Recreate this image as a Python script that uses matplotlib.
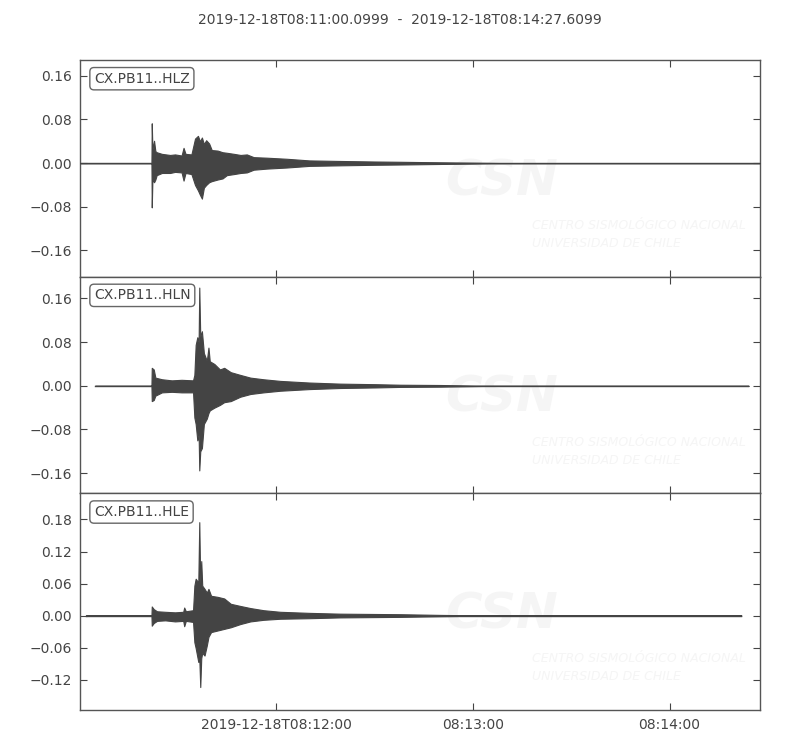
import numpy as np
import matplotlib.pyplot as plt

# trace window (seconds after 2019-12-18T08:11:00.0999)
title = "2019-12-18T08:11:00.0999  -  2019-12-18T08:14:27.6099"
duration = 207.51

labels = ["CX.PB11..HLZ", "CX.PB11..HLN", "CX.PB11..HLE"]

# envelopes: time (s), upper, lower
t_z = [0.0, 21.8, 21.9, 22.1, 22.6, 23.0, 23.4, 25.0, 27.5, 29.0, 31.0, 31.6, 32.2, 34.0,
       35.1, 36.0, 36.6, 37.2, 37.8, 38.5, 39.4, 40.2, 42.0, 43.5, 44.8, 47.0, 49.0, 50.9,
       53.0, 57.0, 63.1, 70.0, 79.4, 90.0, 97.7, 110.0, 120.0, 130.0, 207.5]
up_z = [0, 0, 0.073, 0.025, 0.041, 0.022, 0.020, 0.017, 0.015, 0.016, 0.014, 0.028, 0.017, 0.016,
        0.045, 0.050, 0.040, 0.047, 0.035, 0.042, 0.036, 0.024, 0.023, 0.020, 0.019, 0.017, 0.015, 0.016,
        0.011, 0.010, 0.008, 0.005, 0.004, 0.003, 0.0025, 0.0015, 0.0008, 0, 0]
lo_z = [0, 0, -0.081, -0.030, -0.035, -0.030, -0.022, -0.018, -0.018, -0.016, -0.017, -0.032, -0.018, -0.020,
        -0.040, -0.050, -0.058, -0.065, -0.045, -0.040, -0.035, -0.033, -0.030, -0.028, -0.022, -0.020, -0.018, -0.017,
        -0.012, -0.010, -0.008, -0.005, -0.004, -0.003, -0.0025, -0.0015, -0.0008, 0, 0]

t_n = [4.6, 21.8, 21.9, 22.5, 23.0, 25.0, 28.0, 31.0, 34.5, 34.9, 35.3, 35.8, 36.2, 36.4, 36.7,
       37.2, 37.8, 38.7, 39.2, 39.6, 41.0, 42.7, 44.0, 46.0, 48.9, 52.0, 56.0, 61.1, 70.0, 79.4,
       90.0, 97.7, 110.0, 125.0, 204.0]
up_n = [0, 0, 0.033, 0.030, 0.015, 0.012, 0.010, 0.011, 0.010, 0.020, 0.075, 0.089, 0.080, 0.180, 0.090,
        0.100, 0.060, 0.046, 0.070, 0.045, 0.040, 0.030, 0.033, 0.025, 0.020, 0.015, 0.012, 0.009, 0.006, 0.004,
        0.003, 0.002, 0.0015, 0, 0]
lo_n = [0, 0, -0.028, -0.026, -0.018, -0.012, -0.011, -0.012, -0.012, -0.058, -0.070, -0.100, -0.090, -0.155, -0.120,
        -0.114, -0.070, -0.060, -0.050, -0.045, -0.040, -0.035, -0.030, -0.028, -0.020, -0.015, -0.012, -0.009, -0.006, -0.004,
        -0.003, -0.002, -0.0015, 0, 0]

t_e = [1.8, 21.8, 21.9, 22.5, 23.5, 26.0, 29.0, 31.5, 31.8, 32.3, 34.5, 34.9, 35.3, 36.1, 36.4,
       36.7, 37.0, 37.3, 38.0, 38.7, 39.2, 40.0, 42.0, 44.0, 46.0, 48.9, 52.0, 56.0, 61.1, 70.0,
       79.4, 97.7, 110.0, 125.0, 201.8]
up_e = [0, 0, 0.017, 0.012, 0.008, 0.007, 0.006, 0.007, 0.015, 0.008, 0.010, 0.056, 0.069, 0.062, 0.175,
        0.060, 0.102, 0.056, 0.050, 0.043, 0.050, 0.037, 0.035, 0.032, 0.022, 0.018, 0.014, 0.010, 0.007, 0.005,
        0.0035, 0.0025, 0.0012, 0, 0]
lo_e = [0, 0, -0.019, -0.014, -0.010, -0.009, -0.011, -0.010, -0.020, -0.010, -0.012, -0.050, -0.061, -0.087, -0.080,
        -0.134, -0.080, -0.070, -0.075, -0.056, -0.040, -0.031, -0.028, -0.025, -0.022, -0.016, -0.011, -0.008, -0.006, -0.005,
        -0.0035, -0.0025, -0.0012, 0, 0]

ylims = [(-0.208, 0.189), (-0.197, 0.200), (-0.177, 0.229)]
yticks = [[-0.16, -0.08, 0.0, 0.08, 0.16],
          [-0.16, -0.08, 0.0, 0.08, 0.16],
          [-0.12, -0.06, 0.0, 0.06, 0.12, 0.18]]

xtick_pos = [59.9001, 119.9001, 179.9001]
xtick_labels = ["2019-12-18T08:12:00", "08:13:00", "08:14:00"]

traces = [(t_z, up_z, lo_z), (t_n, up_n, lo_n), (t_e, up_e, lo_e)]

wave_col = "#444444"
text_col = "#444444"
wm_col = "#f5f5f5"

fig = plt.figure(figsize=(8, 7.5), dpi=100)
fig.text(0.5, 0.973, title, ha="center", va="center", fontsize=10, color=text_col)

top, bottom = 1 - 60 / 750, 1 - 710 / 750
h = (top - bottom) / 3
axes = []
for i in range(3):
    ax = fig.add_axes([0.1, top - (i + 1) * h, 0.85, h])
    axes.append(ax)
    t, up, lo = traces[i]

    # faint watermark
    ax.text(0.62, 0.44, "CSN", transform=ax.transAxes, ha="center", va="center",
            fontsize=36, fontweight="bold", style="italic", color=wm_col, zorder=0)
    ax.text(0.665, 0.236, "CENTRO SISMOLÓGICO NACIONAL", transform=ax.transAxes,
            ha="left", va="center", fontsize=9, style="italic", color=wm_col, zorder=0)
    ax.text(0.665, 0.153, "UNIVERSIDAD DE CHILE", transform=ax.transAxes,
            ha="left", va="center", fontsize=9, style="italic", color=wm_col, zorder=0)

    ax.plot([t[0], t[-1]], [0, 0], color=wave_col, lw=1.0, zorder=2)
    ax.fill_between(t, lo, up, color=wave_col, lw=0.8, edgecolor=wave_col, zorder=3)

    ax.set_xlim(0, duration)
    ax.set_ylim(*ylims[i])
    ax.set_yticks(yticks[i])
    ax.set_yticklabels([f"{v:.2f}".replace("-", "\u2212") for v in yticks[i]])
    ax.set_xticks(xtick_pos)
    if i == 2:
        ax.set_xticklabels(xtick_labels)
    else:
        ax.set_xticklabels([])
    ax.tick_params(direction="in", length=5, top=True, right=True,
                   labelsize=10, colors="#444444", labelcolor=text_col, pad=6)
    for s in ax.spines.values():
        s.set_color("#555555")
        s.set_linewidth(1.0)

    ax.text(0.0206, 0.946, labels[i], transform=ax.transAxes, ha="left", va="top",
            fontsize=10, color=text_col, zorder=5,
            bbox=dict(boxstyle="round,pad=0.3", fc="white", ec="#666666", lw=1.0))

fig.savefig("out.png", dpi=100)
